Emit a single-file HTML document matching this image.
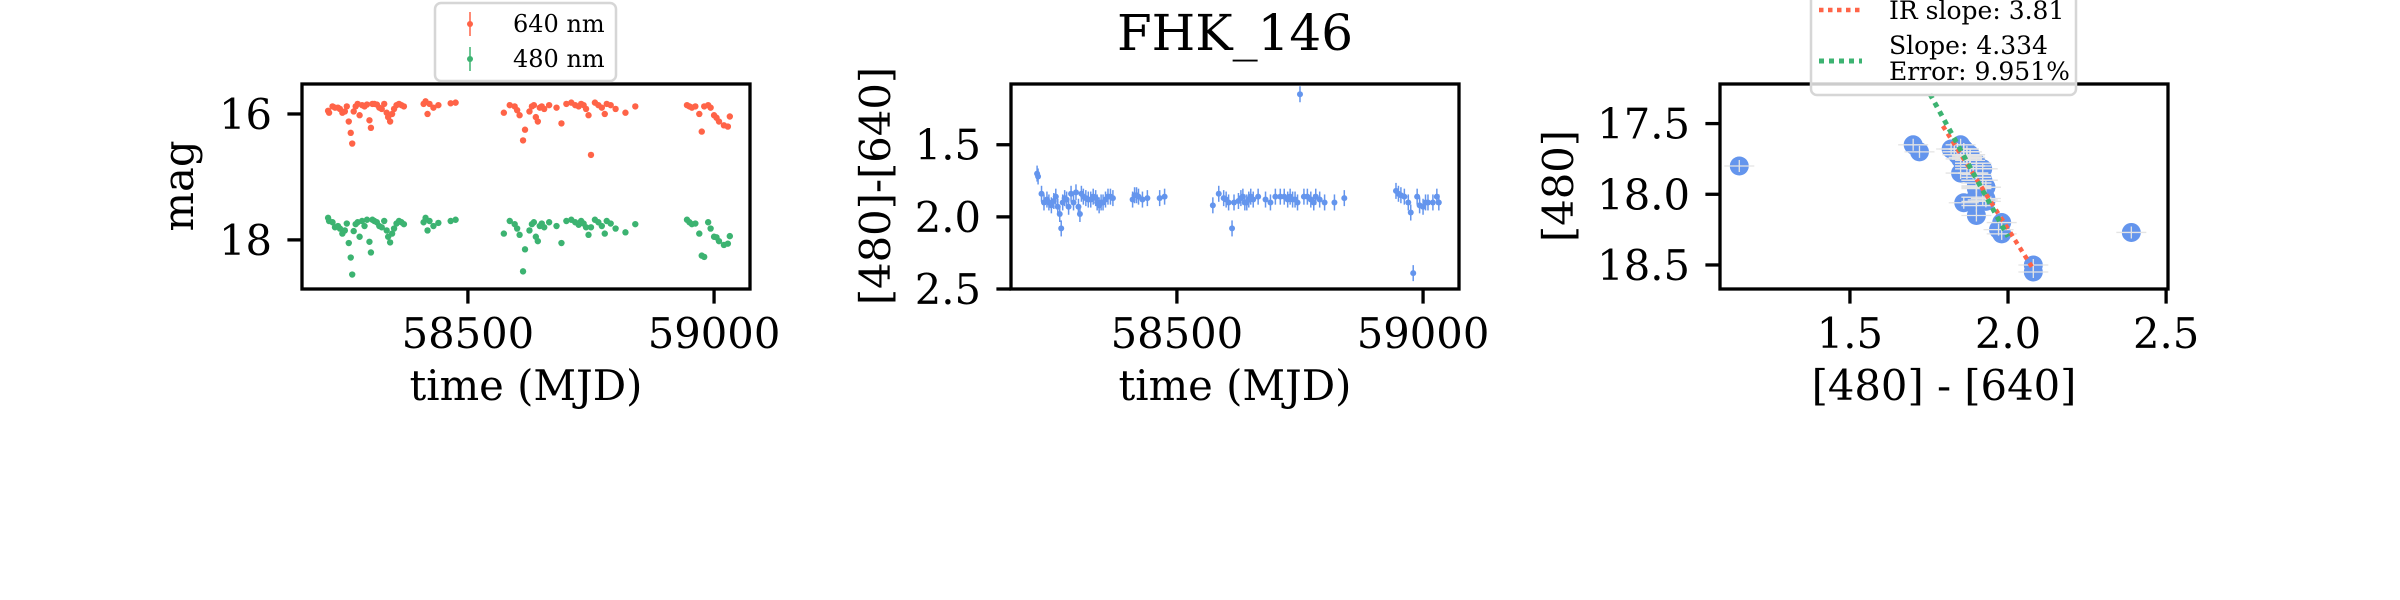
<!DOCTYPE html>
<html><head><meta charset="utf-8"><style>
html,body{margin:0;padding:0;background:#fff;}
svg{display:block;}
text{font-family:"DejaVu Serif","Liberation Serif",serif;fill:#000;}
</style></head><body>
<svg id="fig" width="2400" height="600" viewBox="0 0 2400 600" xmlns="http://www.w3.org/2000/svg">
<rect x="0" y="0" width="2400" height="600" fill="#fff"/>
</svg>
<script>
// ---- data ----
const times = [58216,58218,58225,58230,58236,58240,58245,58250,58254,58258,58262,58265,58268,58272,58276,58280,58285,58290,58295,58300,58303,58306,58310,58315,58320,58325,58330,58335,58338,58342,58346,58350,58355,58360,58365,58370,58410,58414,58418,58422,58430,58440,58465,58475,
58573,58585,58595,58600,58605,58612,58616,58625,58630,58634,58638,58642,58646,58650,58655,58665,58680,58690,58700,58710,58718,58725,58730,58735,58740,58745,58750,58758,58765,58772,58778,58782,58790,58800,58820,58840,
58945,58950,58955,58962,58970,58975,58980,58988,58993,59000,59005,59010,59020,59028,59032];
const mag640 = [15.95,15.98,15.88,15.90,15.90,15.92,15.98,15.96,15.88,16.12,16.30,16.47,15.96,15.88,15.84,16.02,15.86,15.88,15.85,16.10,16.22,15.84,15.84,15.85,15.90,15.92,15.84,15.98,16.05,16.12,16.00,15.92,15.86,15.84,15.86,15.88,15.84,15.80,16.00,15.84,15.90,15.86,15.83,15.82,
15.98,15.86,15.88,15.94,16.02,16.42,16.25,15.96,15.88,15.86,16.05,16.12,15.90,15.88,15.92,15.86,15.90,16.15,15.84,15.82,15.86,15.88,15.84,15.86,15.92,16.02,16.65,15.82,15.86,15.90,16.00,15.84,15.86,15.92,15.98,15.88,
15.86,15.88,15.90,15.88,16.00,16.28,15.88,15.86,15.90,16.02,16.06,16.12,16.18,16.20,16.04];
const mag480 = [17.65,17.70,17.72,17.80,17.78,17.82,17.90,17.85,17.74,18.05,18.28,18.55,17.86,17.75,17.72,17.95,17.70,17.78,17.68,18.03,18.20,17.68,17.70,17.72,17.78,17.80,17.70,17.85,17.95,18.04,17.90,17.82,17.74,17.70,17.72,17.75,17.72,17.65,17.85,17.70,17.78,17.73,17.70,17.68,
17.90,17.70,17.75,17.82,17.92,18.50,18.15,17.85,17.75,17.72,17.95,18.02,17.78,17.74,17.80,17.72,17.78,18.05,17.70,17.68,17.72,17.76,17.70,17.74,17.80,17.92,17.80,17.68,17.72,17.78,17.90,17.70,17.74,17.82,17.88,17.75,
17.68,17.72,17.75,17.74,17.90,18.25,18.27,17.72,17.82,17.95,17.96,18.02,18.08,18.06,17.94];
const timeTicks = [58500, 59000];
const magTicks = [16, 18];
const colorTicks = [1.5, 2.0, 2.5];
const mag480Ticks = [17.5, 18.0, 18.5];
const irLineX = [1.794, 2.082];
const irLineY = [17.517, 18.536];
const fitLineX = [1.753, 2.0];
const fitLineY = [17.29, 18.30];
const legend1Labels = ["640 nm", "480 nm"];
const legend3Labels = ["IR slope: 3.81", "Slope: 4.334", "Error: 9.951%"];

const NS = "http://www.w3.org/2000/svg";
const svg = document.getElementById('fig');
function mk(tag, attrs, parent){
  const e = document.createElementNS(NS, tag);
  for (const k in attrs) e.setAttribute(k, attrs[k]);
  (parent||svg).appendChild(e);
  return e;
}
const RED="#FF6347", GREEN="#3CB371", BLUE="#6495ED";
const TOP=84, BOT=289, W=448;
function scale(d0,d1,r0,r1){return v=>r0+(v-d0)/(d1-d0)*(r1-r0);}

function axes(left, xs, ys, xt, yt, xfmt, yfmt, name){
  const g = mk('g', {});
  
  
  xt.forEach(v=>{
    const x = xs(v);
    const l = mk('line',{x1:x,x2:x,y1:BOT,y2:BOT+14.6,stroke:'#000','stroke-width':3.3},g);
    
    
    const t = mk('text',{x:x,y:348,'text-anchor':'middle','font-size':41.7},g);
    
    
    t.textContent = xfmt(v);
  });
  yt.forEach(v=>{
    const y = ys(v);
    const l = mk('line',{x1:left-14.6,x2:left,y1:y,y2:y,stroke:'#000','stroke-width':3.3},g);
    
    
    const t = mk('text',{x:left-30,y:y+15,'text-anchor':'end','font-size':41.7},g);
    
    
    t.textContent = yfmt(v);
  });
  return g;
}
function frame(left,name){
  const r = mk('rect',{x:left,y:TOP,width:W,height:BOT-TOP,fill:'none',stroke:'#000','stroke-width':3.3});
  
  
}
function label(txt,x,y,rot,name,size){
  const t = mk('text',{x:x,y:y,'text-anchor':'middle','font-size':size||41.7});
  if (rot) t.setAttribute('transform',`rotate(-90 ${x} ${y})`);
  
  
  t.textContent = txt;
}
const f0 = v=>String(v), f1 = v=>v.toFixed(1);

// ---- Panel 1: light curves ----
const L1=302;
const x1 = scale(58163,59073,L1,L1+W);
const y1 = scale(15.524,18.78,TOP,BOT);
const clip1 = mk('clipPath',{id:'c1'}); mk('rect',{x:L1,y:TOP,width:W,height:BOT-TOP},clip1);
const p1 = mk('g',{'clip-path':'url(#c1)'});


times.forEach((t,i)=>{
  const c = mk('circle',{cx:x1(t),cy:y1(mag640[i]),r:3.2,fill:RED},p1);
  
  
  const d = mk('circle',{cx:x1(t),cy:y1(mag480[i]),r:3.2,fill:GREEN},p1);
  
  
});
frame(L1,'light-curve-axes');
axes(L1,x1,y1,timeTicks,magTicks,f0,f0,'light-curve-ticks');
label('mag',193,186,true,'y-axis-title-mag');
label('time (MJD)',L1+W/2,400,false,'x-axis-title-time');
// legend 1
const lg1 = mk('g',{});


mk('rect',{x:435,y:3,width:181,height:78,rx:6,fill:'#fff','fill-opacity':0.8,stroke:'#d6d6d6','stroke-width':2.5},lg1);
[[RED,24],[GREEN,59]].forEach((c,i)=>{
  const e = mk('g',{},lg1);
  
  
  mk('line',{x1:470,x2:470,y1:c[1]-12,y2:c[1]+12,stroke:c[0],'stroke-width':1.5},e);
  mk('circle',{cx:470,cy:c[1],r:3,fill:c[0]},e);
  const t = mk('text',{x:513,y:c[1]+8,'font-size':24},e);
  t.textContent = legend1Labels[i];
});

// ---- Panel 2: color curve ----
const L2=1011;
const x2 = scale(58163,59073,L2,L2+W);
const y2 = scale(1.079,2.5,TOP,BOT);
const p2 = mk('g',{});


times.forEach((t,i)=>{
  const c = mag480[i]-mag640[i];
  const g = mk('g',{},p2);
  
  
  mk('line',{x1:x2(t),x2:x2(t),y1:y2(c)-8,y2:y2(c)+8,stroke:BLUE,'stroke-width':1.5},g);
  mk('circle',{cx:x2(t),cy:y2(c),r:3,fill:BLUE},g);
});
frame(L2,'color-curve-axes');
axes(L2,x2,y2,timeTicks,colorTicks,f0,f1,'color-curve-ticks');
label('[480]-[640]',890,186,true,'y-axis-title-color');
label('time (MJD)',L2+W/2,400,false,'x-axis-title-time-2');
label('FHK_146',L2+W/2,50,false,'chart-title',50);

// ---- Panel 3: color-magnitude ----
const L3=1720;
const x3 = scale(1.089,2.506,L3,L3+W);
const y3 = scale(17.22,18.67,TOP,BOT);
const p3 = mk('g',{});


times.forEach((t,i)=>{
  const c = mag480[i]-mag640[i];
  const g = mk('g',{},p3);
  
  
  mk('circle',{cx:x3(c),cy:y3(mag480[i]),r:9.5,fill:BLUE},g);
});
times.forEach((t,i)=>{
  const c = mag480[i]-mag640[i];
  const cx=x3(c), cy=y3(mag480[i]);
  const e = mk('path',{d:`M${cx-15} ${cy}H${cx+15}M${cx} ${cy-6}V${cy+6}`,stroke:'#e4e4e4','stroke-width':1.3,fill:'none'},p3);
  
  
});
const ir = mk('line',{x1:x3(irLineX[0]),y1:y3(irLineY[0]),x2:x3(irLineX[1]),y2:y3(irLineY[1]),stroke:RED,'stroke-width':4.5,'stroke-dasharray':'4.5 4.5'});


const fit = mk('line',{x1:x3(fitLineX[0]),y1:y3(fitLineY[0]),x2:x3(fitLineX[1]),y2:y3(fitLineY[1]),stroke:GREEN,'stroke-width':5,'stroke-dasharray':'5 5'});


frame(L3,'color-magnitude-axes');
axes(L3,x3,y3,colorTicks,mag480Ticks,f1,f1,'color-magnitude-ticks');
label('[480]',1573,186,true,'y-axis-title-480');
label('[480] - [640]',L3+W/2,400,false,'x-axis-title-color');
// legend 3
const lg3 = mk('g',{});


mk('rect',{x:1811,y:-10,width:265,height:105,rx:6,fill:'#fff','fill-opacity':0.8,stroke:'#d6d6d6','stroke-width':2.5},lg3);
const e1 = mk('g',{},lg3);


mk('line',{x1:1819,x2:1862,y1:10,y2:10,stroke:RED,'stroke-width':4.5,'stroke-dasharray':'4.5 4.5'},e1);
const ta = mk('text',{x:1889,y:19,'font-size':25},e1); ta.textContent = legend3Labels[0];
const e2 = mk('g',{},lg3);


mk('line',{x1:1819,x2:1862,y1:61,y2:61,stroke:GREEN,'stroke-width':5,'stroke-dasharray':'5 5'},e2);
const tb = mk('text',{x:1889,y:54,'font-size':25},e2); tb.textContent = legend3Labels[1];
const tc = mk('text',{x:1889,y:80,'font-size':25},e2); tc.textContent = legend3Labels[2];
</script>
</body></html>
